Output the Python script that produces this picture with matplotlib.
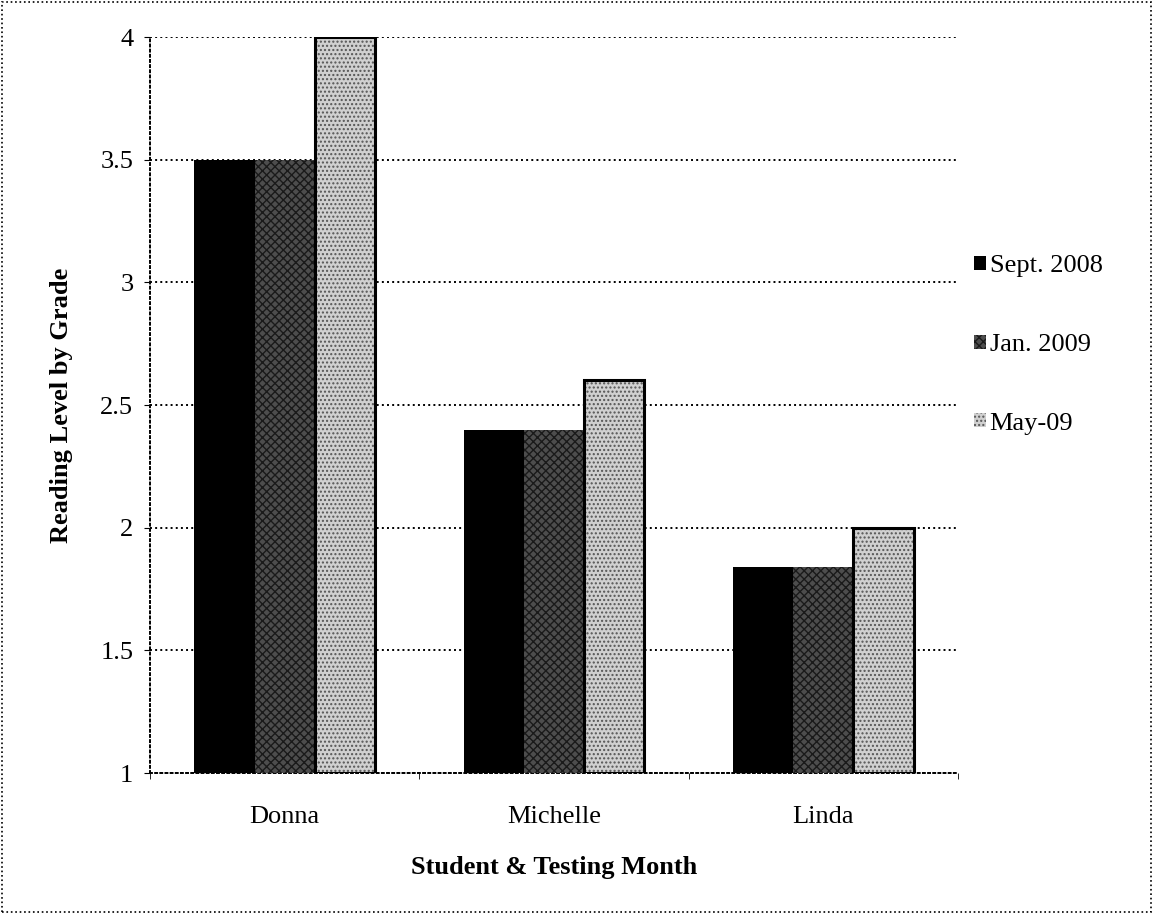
import matplotlib.pyplot as plt
import numpy as np
from matplotlib.patches import Rectangle

plt.rcParams['font.family'] = ['Liberation Serif', 'DejaVu Serif']

# Reading levels per student at each test
students = ["Donna", "Michelle", "Linda"]
series_names = ["Sept. 2008", "Jan. 2009", "May-09"]
sept_2008 = [3.5, 2.4, 1.84]
jan_2009 = [3.5, 2.4, 1.84]
may_2009 = [4.0, 2.6, 2.0]

fig = plt.figure(figsize=(11.53, 9.14), dpi=100)
ax = fig.add_axes([150 / 1153, 1 - 773 / 914, 808 / 1153, 736 / 914])

x = np.arange(len(students))
w = 0.224
styles = [
    dict(color="black", edgecolor="black", hatch=None),
    dict(color="#4d4d4d", edgecolor="#1a1a1a", hatch="xxxx"),
    dict(color="#d0d0d0", edgecolor="#555555", hatch="...."),
]
values = [sept_2008, jan_2009, may_2009]
for i, (name, vals, st) in enumerate(zip(series_names, values, styles)):
    bars = ax.bar(x + (i - 1) * w, np.array(vals) - 1, w, bottom=1,
                  color=st["color"], edgecolor=st["edgecolor"],
                  hatch=st["hatch"], linewidth=0, label=name, zorder=3)
    # thick outline on the last bar of each group
    if i == 2:
        for b in bars:
            ax.add_patch(Rectangle(b.get_xy(), b.get_width(), b.get_height(),
                                   fill=False, edgecolor="black", linewidth=2.2, zorder=4))

ax.set_xlim(-0.5, 2.5)
ax.set_ylim(1, 4)
ax.set_yticks(np.arange(1, 4.01, 0.5))
ax.set_yticklabels(["1", "1.5", "2", "2.5", "3", "3.5", "4"])
ax.set_xticks(x)
ax.set_xticklabels(students)
ax.set_xticks([-0.5, 0.5, 1.5, 2.5], minor=True)
ax.tick_params(axis="x", which="major", length=0, pad=24, labelsize=19)
ax.tick_params(axis="x", which="minor", length=4)
ax.tick_params(axis="y", length=4, labelsize=19, pad=8)

ax.grid(axis="y", linestyle=":", color="black", linewidth=1.4, zorder=0)
for side in ["top", "right"]:
    ax.spines[side].set_visible(False)
for side in ["left", "bottom"]:
    ax.spines[side].set_linestyle(":")
    ax.spines[side].set_linewidth(1.4)

ax.set_ylabel("Reading Level by Grade", fontsize=19, fontweight="bold", labelpad=20)
ax.set_xlabel("Student & Testing Month", fontsize=19, fontweight="bold", labelpad=20)

leg = ax.legend(loc="center left", bbox_to_anchor=(1.0, 0.5815), frameon=False,
                fontsize=19, labelspacing=2.15, handlelength=0.45, handleheight=0.45,
                handletextpad=0.15, borderaxespad=0.2)

# dotted border around the whole chart
fig.patches.append(Rectangle((0.002, 0.002), 0.996, 0.996, transform=fig.transFigure,
                             fill=False, linestyle=":", linewidth=1.2, edgecolor="black"))

plt.savefig("out.png", dpi=100)
